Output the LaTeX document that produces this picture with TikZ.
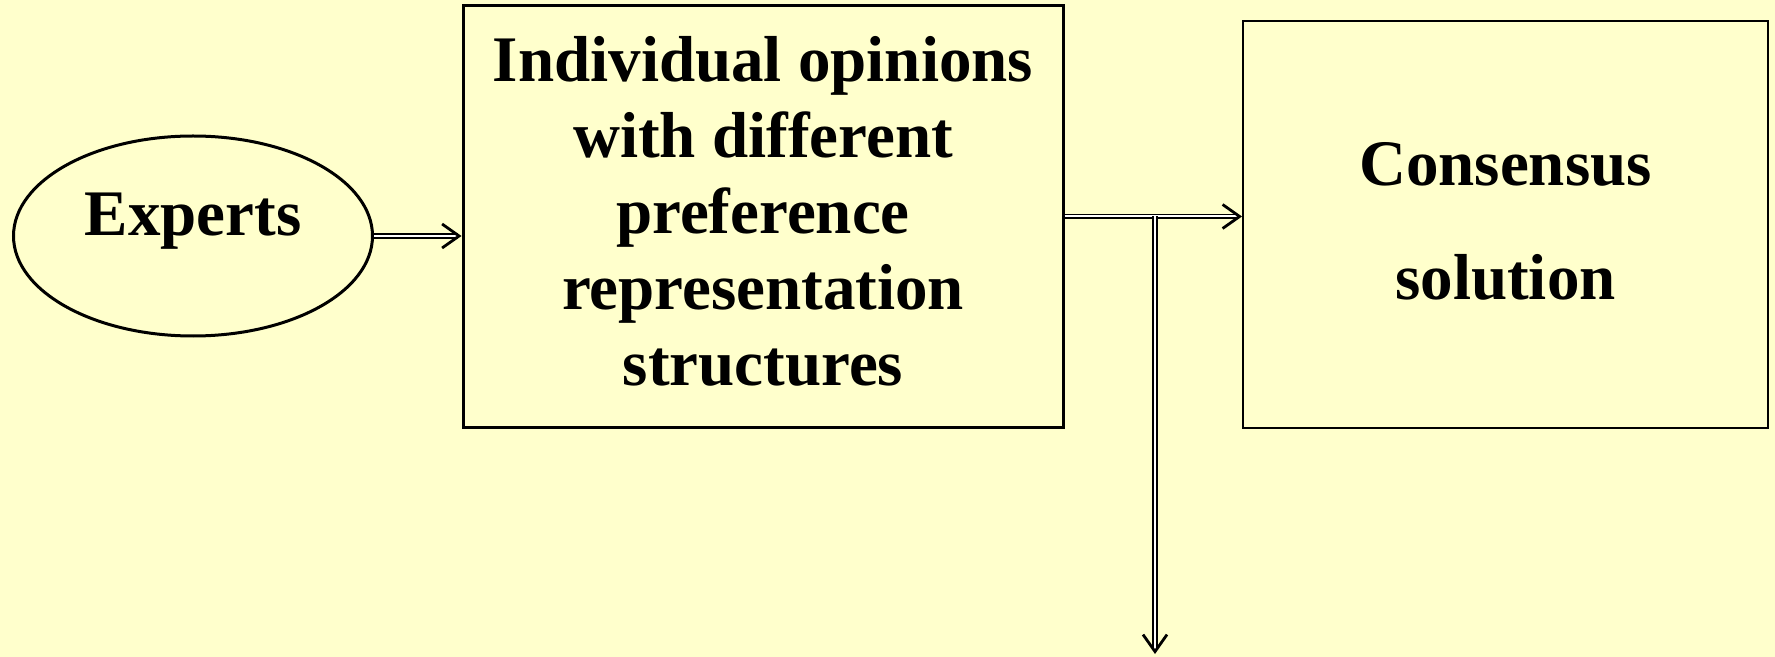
\documentclass[tikz,border=0pt]{standalone}
\usepackage{fontspec}
\setmainfont{Liberation Serif}
\usetikzlibrary{shapes.geometric,arrows.meta}
\definecolor{paper}{HTML}{FFFFCC}

\begin{document}
\begin{tikzpicture}[x=0.5pt,y=-0.5pt,
  label text/.style={font=\fontsize{32.5}{38}\selectfont\bfseries,align=center},
  dbl/.style={double,line width=0.9pt,double distance=1pt,
    -{Straight Barb[length=8.5pt,width=12pt,line width=1.4pt]}}]
  \fill [paper] (0,0) rectangle (1775,657);
  \useasboundingbox (0,0) rectangle (1775,657);
  \node [ellipse,draw,line width=1.5pt,inner sep=0pt,
    minimum width=179.5pt,minimum height=100pt] (experts)
    at (193,236) {};
  \node [label text] (expertstext) at (193,221) {Experts};
  \node [rectangle,draw,line width=1.5pt,inner sep=0pt,
    minimum width=300pt,minimum height=210.5pt] (opinions)
    at (763,216.5) {};
  \node [label text] (opinionstext) at (763,211)
    {Individual opinions\\with different\\preference\\representation\\structures};
  \node [rectangle,draw,line width=1pt,inner sep=0pt,
    minimum width=262.5pt,minimum height=203pt] (consensus)
    at (1505.5,224.5) {};
  \node [font=\fontsize{32.5}{57}\selectfont\bfseries,align=center]
    (consensustext) at (1505.5,221) {Consensus\\solution};
  \coordinate (split) at (1155,216.5);
  \coordinate (sink) at (1155,654);
  \draw [dbl] (experts.east) -- (experts.east -| opinions.west);
  \draw [dbl] (opinions.east) -- (opinions.east -| consensus.west);
  \draw [dbl] (split) -- (sink);
\end{tikzpicture}
\end{document}
